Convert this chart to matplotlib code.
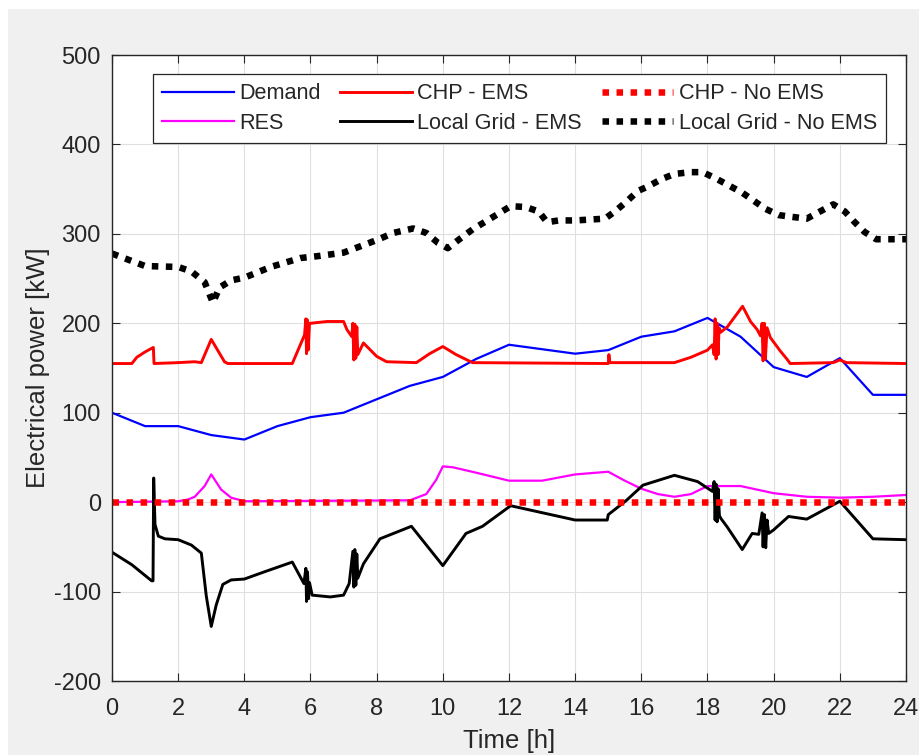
import matplotlib
matplotlib.use("Agg")
import matplotlib.pyplot as plt
from matplotlib.patches import Rectangle
import numpy as np

plt.rcParams['font.family'] = ['Liberation Sans', 'DejaVu Sans']
plt.rcParams['axes.unicode_minus'] = False

# ---------------- data ----------------
t_demand = [0, 1, 2, 3, 4, 5, 6, 7, 8, 9, 10, 11, 12, 13, 14, 15, 16, 17, 18, 19, 20, 21, 22, 23, 24]
demand = [100, 85, 85, 75, 70, 85, 95, 100, 115, 130, 140, 160, 176, 171, 166, 170, 185, 191, 206,
          185, 151, 140, 161, 120, 120]

t_res = [0, 2, 2.3, 2.5, 2.8, 3, 3.3, 3.6, 4, 9, 9.5, 9.8, 10, 10.3, 11, 12, 13, 14, 15, 15.5, 16,
         16.5, 17, 17.5, 18, 19, 20, 21, 22, 23, 24]
res = [0, 1, 3, 6, 18, 31, 14, 5, 1, 2, 9, 25, 40, 39, 33, 24, 24, 31, 34, 24, 15,
       9, 6, 9, 18, 18, 10, 6, 5, 6, 8]

t_chp_ems = [0, 0.6, 0.75, 1.0, 1.2, 1.25, 1.27, 2.0, 2.5, 2.7, 3.0, 3.4, 3.5, 5.45, 5.82, 5.86,
             5.88, 5.9, 5.93, 5.97, 6.0, 6.5, 7.0, 7.1, 7.25, 7.28, 7.31, 7.34, 7.37, 7.4, 7.43,
             7.6, 8.0, 8.3, 9.2, 9.6, 10.0, 10.4, 10.9, 15.0, 15.02, 15.05, 17.0, 17.5, 18.0,
             18.15, 18.2, 18.23, 18.26, 18.29, 18.32, 18.35, 18.4, 18.6, 19.06, 19.3, 19.5,
             19.6, 19.65, 19.68, 19.72, 19.75, 19.8, 19.9, 20.2, 20.4, 20.5, 21.8, 22.0, 22.2, 24]
chp_ems = [155, 155, 162, 168, 172, 173, 155, 156, 157, 156, 182, 157, 155, 155, 187, 205,
           166, 204, 170, 200, 200, 202, 202, 193, 185, 200, 159, 199, 161, 196, 165,
           178, 163, 157, 156, 166, 174, 165, 156, 155, 165, 156, 156, 162, 170,
           176, 165, 205, 160, 200, 165, 195, 190, 196, 219, 202, 193,
           186, 200, 158, 200, 160, 195, 184, 169, 160, 155, 156, 159, 156, 155]

t_grid_ems = [0, 0.6, 1.2, 1.24, 1.26, 1.3, 1.4, 1.6, 2.0, 2.4, 2.7, 2.85, 3.0, 3.15, 3.35, 3.6,
              4.0, 4.6, 5.45, 5.8, 5.86, 5.88, 5.91, 5.94, 5.97, 6.05, 6.6, 7.0, 7.17, 7.28,
              7.31, 7.34, 7.37, 7.4, 7.43, 7.6, 8.1, 9.05, 10.0, 10.7, 11.2, 12.05, 14.0, 14.97,
              15.0, 15.55, 16.05, 17.0, 17.7, 18.15, 18.2, 18.23, 18.26, 18.29, 18.32, 18.36,
              18.4, 18.6, 19.05, 19.35, 19.55, 19.65, 19.68, 19.72, 19.76, 19.8, 19.85, 20.0,
              20.45, 21.0, 22.0, 23.0, 24]
grid_ems = [-56, -70, -88, -88, 27, -25, -38, -41, -42, -48, -57, -105, -139, -115, -92, -87,
            -86, -78, -67, -91, -74, -111, -78, -108, -90, -104, -106, -104, -91, -55,
            -95, -53, -93, -58, -85, -69, -41, -27, -71, -35, -27, -4, -20, -20,
            -14, 2, 19, 30, 23, 12, 23, -20, 20, -22, 15, -15,
            -18, -28, -53, -35, -36, -12, -50, -14, -51, -20, -35, -31,
            -16, -19, 1, -41, -42]

t_chp_noems = [0, 24]
chp_noems = [0, 0]

t_grid_noems = [0, 1, 2, 2.4, 2.8, 3.05, 3.25, 3.6, 4, 4.8, 5.7, 6.2, 7.0, 7.5, 8.0, 8.5, 9.1,
                9.5, 9.85, 10.15, 10.5, 10.9, 11.3, 11.7, 12.05, 12.5, 12.9, 13.15, 13.5, 14,
                14.9, 15.2, 15.55, 15.9, 16.2, 16.6, 17.0, 17.5, 17.85, 18.25, 18.65, 19.05,
                19.4, 19.75, 20.15, 20.55, 21.0, 21.4, 21.8, 22.15, 22.45, 22.75, 23.1, 23.5, 24]
grid_noems = [278, 264, 263, 258, 246, 223, 240, 248, 251, 263, 273, 275, 279, 286, 293, 301, 306,
              301, 290, 284, 294, 305, 314, 323, 331, 330, 325, 313, 315, 315,
              317, 325, 336, 348, 353, 361, 367, 369, 369, 362, 354, 346,
              337, 328, 321, 319, 317, 325, 333, 325, 313, 302, 294, 294, 294]

x_ticks = list(range(0, 25, 2))
y_ticks = list(range(-200, 501, 100))
x_label = "Time [h]"
y_label = "Electrical power [kW]"

# ---------------- figure ----------------
W, H = 920, 755
fig = plt.figure(figsize=(W / 100, H / 100), dpi=100, facecolor='white')
fig.patches.append(Rectangle((8 / W, 0), 1, (H - 9) / H, transform=fig.transFigure,
                             facecolor='#f0f0f0', edgecolor='none', zorder=-10))

ax = fig.add_axes([112 / W, 1 - 681 / H, (906 - 112) / W, (681 - 55) / H])
ax.set_facecolor('white')

dark = '#262626'
ax.plot(t_demand, demand, color='#0000ff', lw=1.6, label='Demand')
ax.plot(t_res, res, color='#ff00ff', lw=1.6, label='RES')
ax.plot(t_chp_ems, chp_ems, color='#ff0000', lw=2.1, label='CHP - EMS')
ax.plot(t_grid_ems, grid_ems, color='black', lw=2.1, label='Local Grid - EMS')
ax.plot(t_chp_noems, chp_noems, color='#ff0000', lw=4.7, dashes=(1, 1.15),
        dash_capstyle='butt', label='CHP - No EMS')
ax.plot(t_grid_noems, grid_noems, color='black', lw=4.7, dashes=(1, 1.15),
        dash_capstyle='butt', label='Local Grid - No EMS')

ax.set_xlim(0, 24)
ax.set_ylim(-200, 500)
ax.set_xticks(x_ticks)
ax.set_yticks(y_ticks)
ax.grid(True, color='#dfdfdf', lw=0.8)
ax.set_axisbelow(True)
for s in ax.spines.values():
    s.set_color(dark)
    s.set_linewidth(1.0)
ax.tick_params(direction='in', top=True, right=True, length=5.5, width=0.8,
               color=dark, labelcolor=dark, labelsize=17)
ax.tick_params(axis='x', pad=12)
ax.tick_params(axis='y', pad=8)
ax.set_xlabel(x_label, fontsize=18.5, color=dark, labelpad=7)
ax.set_ylabel(y_label, fontsize=18.5, color=dark, labelpad=3)

leg = ax.legend(ncol=3, loc='upper left', bbox_to_anchor=(153 / W, 1 - 74 / H),
                bbox_transform=fig.transFigure, borderaxespad=0, fontsize=15.6,
                handlelength=3.3, handletextpad=0.25, columnspacing=0.92,
                labelspacing=0.4, borderpad=0.42, fancybox=False, framealpha=1,
                edgecolor=dark)
leg.get_frame().set_linewidth(0.9)
for txt in leg.get_texts():
    txt.set_color(dark)

fig.savefig('out.png', dpi=100, facecolor=fig.get_facecolor())
